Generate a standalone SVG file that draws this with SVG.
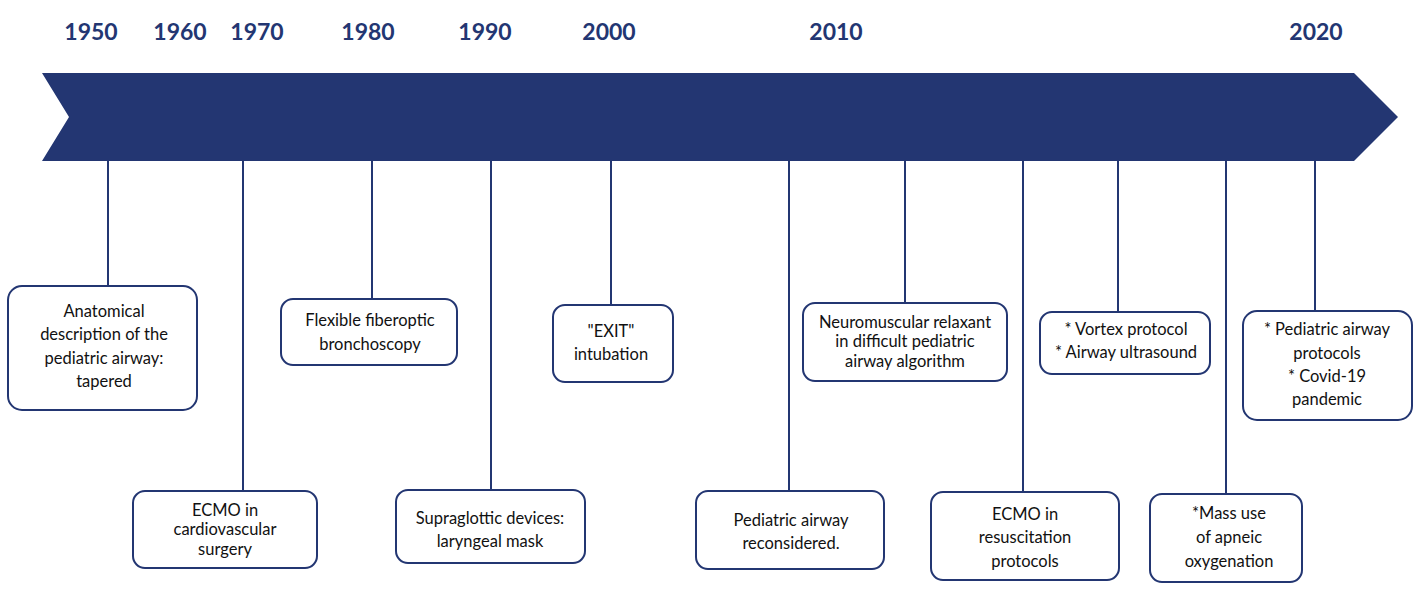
<svg xmlns="http://www.w3.org/2000/svg" width="1421" height="593" viewBox="0 0 1421 593">
<style>
.yr{font-family:Lato,"Noto Sans",sans-serif;font-size:23px;font-weight:bold;fill:#233672;text-anchor:middle}
.box{fill:#fff;stroke:#233672;stroke-width:2}
.t{font-family:Lato,"Noto Sans",sans-serif;font-size:16.5px;fill:#111;text-anchor:middle}
.c{stroke:#233672;stroke-width:2;fill:none}
</style>
<rect width="1421" height="593" fill="#fff"/>
<g id="timeline">
<polygon points="42,73 1354,73 1398,117 1354,161 42,161 69,117" fill="#233672"/>
</g>
<g id="years">
<text class="yr" x="91" y="40">1950</text>
<text class="yr" x="180" y="40">1960</text>
<text class="yr" x="257" y="40">1970</text>
<text class="yr" x="368" y="40">1980</text>
<text class="yr" x="485" y="40">1990</text>
<text class="yr" x="609" y="40">2000</text>
<text class="yr" x="836" y="40">2010</text>
<text class="yr" x="1316" y="40">2020</text>
</g>
<g id="connectors">
<line class="c" x1="108" y1="161" x2="108" y2="286"/>
<line class="c" x1="243" y1="161" x2="243" y2="491"/>
<line class="c" x1="372" y1="161" x2="372" y2="299"/>
<line class="c" x1="491" y1="161" x2="491" y2="490"/>
<line class="c" x1="611" y1="161" x2="611" y2="305"/>
<line class="c" x1="789" y1="161" x2="789" y2="491"/>
<line class="c" x1="905" y1="161" x2="905" y2="303"/>
<line class="c" x1="1023" y1="161" x2="1023" y2="492"/>
<line class="c" x1="1118" y1="161" x2="1118" y2="312"/>
<line class="c" x1="1226" y1="161" x2="1226" y2="494"/>
<line class="c" x1="1315" y1="161" x2="1315" y2="311"/>
</g>
<g id="n1">
<rect class="box" x="8" y="286" width="189" height="124" rx="14"/>
<text class="t" x="104"><tspan x="104" y="317">Anatomical</tspan><tspan x="104" y="340">description of the</tspan><tspan x="104" y="364">pediatric airway:</tspan><tspan x="104" y="387">tapered</tspan></text>
</g>
<g id="n2">
<rect class="box" x="133" y="491" width="184" height="77" rx="12"/>
<text class="t"><tspan x="225" y="516">ECMO in</tspan><tspan x="225" y="535">cardiovascular</tspan><tspan x="225" y="555">surgery</tspan></text>
</g>
<g id="n3">
<rect class="box" x="281" y="299" width="176" height="66" rx="12"/>
<text class="t"><tspan x="370" y="326">Flexible fiberoptic</tspan><tspan x="370" y="350">bronchoscopy</tspan></text>
</g>
<g id="n4">
<rect class="box" x="396" y="490" width="189" height="73" rx="12"/>
<text class="t"><tspan x="490" y="524">Supraglottic devices:</tspan><tspan x="490" y="547">laryngeal mask</tspan></text>
</g>
<g id="n5">
<rect class="box" x="553" y="305" width="120" height="77" rx="12"/>
<text class="t"><tspan x="611" y="337">"EXIT"</tspan><tspan x="611" y="360">intubation</tspan></text>
</g>
<g id="n6">
<rect class="box" x="696" y="491" width="188" height="78" rx="12"/>
<text class="t"><tspan x="791" y="526">Pediatric airway</tspan><tspan x="791" y="549">reconsidered.</tspan></text>
</g>
<g id="n7">
<rect class="box" x="803" y="303" width="204" height="78" rx="12"/>
<text class="t"><tspan x="905" y="328">Neuromuscular relaxant</tspan><tspan x="905" y="347">in difficult pediatric</tspan><tspan x="905" y="367">airway algorithm</tspan></text>
</g>
<g id="n8">
<rect class="box" x="931" y="492" width="188" height="88" rx="12"/>
<text class="t"><tspan x="1025" y="520">ECMO in</tspan><tspan x="1025" y="543">resuscitation</tspan><tspan x="1025" y="567">protocols</tspan></text>
</g>
<g id="n9">
<rect class="box" x="1040" y="312" width="170" height="62" rx="12"/>
<text class="t"><tspan x="1126" y="335">* Vortex protocol</tspan><tspan x="1126" y="358">* Airway ultrasound</tspan></text>
</g>
<g id="n10">
<rect class="box" x="1150" y="494" width="152" height="88" rx="12"/>
<text class="t"><tspan x="1229" y="519">*Mass use</tspan><tspan x="1229" y="543">of apneic</tspan><tspan x="1229" y="567">oxygenation</tspan></text>
</g>
<g id="n11">
<rect class="box" x="1243" y="311" width="169" height="109" rx="14"/>
<text class="t"><tspan x="1327" y="335">* Pediatric airway</tspan><tspan x="1327" y="359">protocols</tspan><tspan x="1327" y="382">* Covid-19</tspan><tspan x="1327" y="405">pandemic</tspan></text>
</g>
</svg>
